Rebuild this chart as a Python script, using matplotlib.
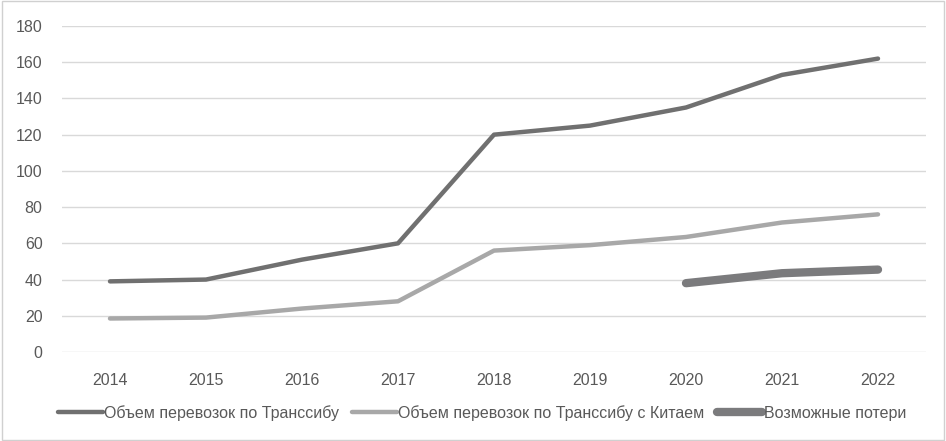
import numpy as np
import matplotlib.pyplot as plt
from matplotlib.patches import Rectangle

years = ['2014', '2015', '2016', '2017', '2018', '2019', '2020', '2021', '2022']
transsib = [39, 40, 51, 60, 120, 125, 135, 153, 162]
transsib_china = [18.5, 19, 24, 28, 56, 59, 63.5, 71.5, 76]
loss_years = ['2020', '2021', '2022']
losses = [38, 43.5, 45.5]

plt.rcParams['font.family'] = ['Liberation Sans', 'DejaVu Sans']
txt = '#595959'

fig = plt.figure(figsize=(9.46, 4.41), dpi=100)
ax = fig.add_axes([62 / 946, 1 - 352 / 441, 864 / 946, 326 / 441])

x = np.arange(len(years))
ax.plot(x, transsib, color='#707070', lw=3.2, solid_capstyle='round',
        label='Объем перевозок по Транссибу')
ax.plot(x, transsib_china, color='#a8a8a8', lw=3.2, solid_capstyle='round',
        label='Объем перевозок по Транссибу с Китаем')
lx = [years.index(y) for y in loss_years]
ax.plot(lx, losses, color='#7b7b7d', lw=6, solid_capstyle='round',
        label='Возможные потери')

ax.set_xlim(-0.5, len(years) - 0.5)
ax.set_ylim(0, 180)
ax.set_yticks(range(0, 181, 20))
ax.set_xticks(x)
ax.set_xticklabels(years)
ax.grid(axis='y', color='#d9d9d9', lw=1)
ax.set_axisbelow(True)
for s in ax.spines.values():
    s.set_visible(False)
ax.tick_params(length=0, labelsize=11.5, colors=txt)
ax.tick_params(axis='x', pad=15)
ax.tick_params(axis='y', pad=14)

leg = fig.legend(loc='center', bbox_to_anchor=(482 / 946, 1 - 413 / 441), ncol=3,
                 frameon=False, fontsize=11.5, handlelength=2.8, handletextpad=0.1,
                 columnspacing=0.8)
for t in leg.get_texts():
    t.set_color(txt)

fig.patches.append(Rectangle((0.002, 0.002), 0.996, 0.996, transform=fig.transFigure,
                             fill=False, edgecolor='#d0d0d0', lw=1))

plt.savefig('out.png', dpi=100)
